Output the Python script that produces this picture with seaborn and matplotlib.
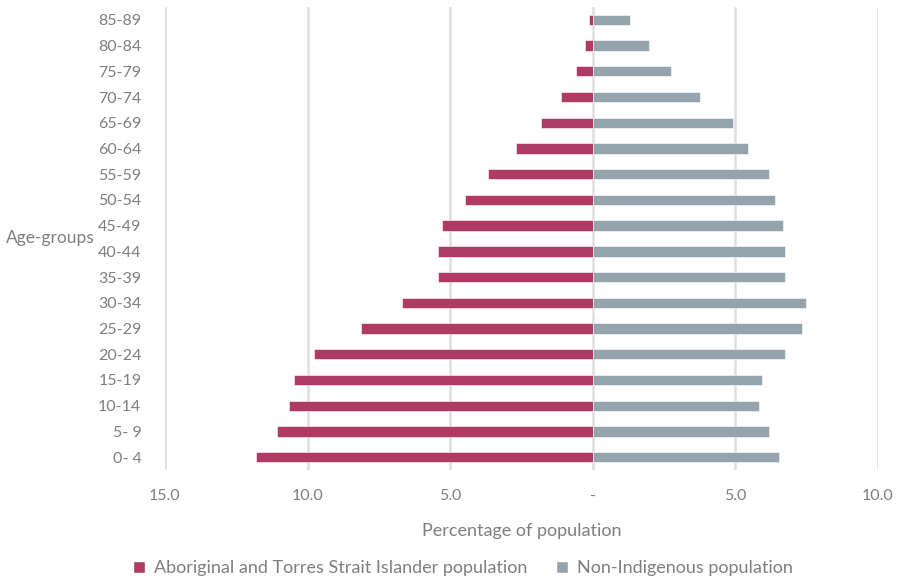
import numpy as np
import pandas as pd
import matplotlib.pyplot as plt
import seaborn as sns
from matplotlib.patches import Patch
from matplotlib.ticker import FuncFormatter

# starosne grupe, od najstarije (gore) do najmladje (dole)
age_groups = ['85-89', '80-84', '75-79', '70-74', '65-69', '60-64', '55-59',
              '50-54', '45-49', '40-44', '35-39', '30-34', '25-29', '20-24',
              '15-19', '10-14', '5- 9', '0- 4']
aboriginal = [0.15, 0.29, 0.58, 1.10, 1.83, 2.71, 3.67, 4.47, 5.28, 5.43,
              5.43, 6.68, 8.14, 9.76, 10.49, 10.64, 11.08, 11.82]
non_indigenous = [1.30, 1.96, 2.75, 3.77, 4.93, 5.44, 6.17, 6.39, 6.68, 6.75,
                  6.75, 7.48, 7.33, 6.75, 5.95, 5.81, 6.17, 6.53]
series_names = ['Aboriginal and Torres Strait Islander population',
                'Non-Indigenous population']
colors = ['#AF3A64', '#95A3AD']
x_ticks = [-15, -10, -5, 0, 5, 10]

df = pd.concat([
    pd.DataFrame({'age': age_groups, 'pct': -np.array(aboriginal), 'pop': series_names[0]}),
    pd.DataFrame({'age': age_groups, 'pct': non_indigenous, 'pop': series_names[1]}),
])

sns.set_style('white')
plt.rcParams['font.family'] = ['Lato', 'DejaVu Sans']
text_color = '#7f7f7f'

fig = plt.figure(figsize=(8.97, 5.83), dpi=100)
ax = fig.add_axes([165 / 897, 1 - 470 / 583, (878 - 165) / 897, (470 - 7) / 583])

sns.barplot(data=df, x='pct', y='age', hue='pop', order=age_groups,
            hue_order=series_names, palette=colors, saturation=1, dodge=False,
            width=0.4, orient='h', ax=ax, legend=False,
            edgecolor='white', linewidth=0.4)

ax.set_xlim(-15, 10)
ax.set_xticks(x_ticks)
ax.xaxis.set_major_formatter(FuncFormatter(lambda v, p: '-' if v == 0 else f'{abs(v):.1f}'))
ax.grid(axis='x', color='#dedede', linewidth=1.8)
ax.set_axisbelow(True)
for s in ax.spines.values():
    s.set_visible(False)
ax.tick_params(axis='both', length=0, labelsize=11.5, colors=text_color)
ax.tick_params(axis='x', pad=14)
ax.tick_params(axis='y', pad=17)

ax.set_xlabel('Percentage of population', fontsize=13, color=text_color, labelpad=14)
ax.set_ylabel('Age-groups', fontsize=12.5, color=text_color, rotation=0,
              ha='right', va='center')
ax.yaxis.set_label_coords(-70 / 713, 0.5)

handles = [Patch(facecolor=c, label=n) for c, n in zip(colors, series_names)]
leg = fig.legend(handles=handles, loc='center', bbox_to_anchor=(463 / 897, 1 - 568 / 583),
                 ncol=2, frameon=False, fontsize=13, handlelength=0.65, handleheight=0.65,
                 handletextpad=0.5, columnspacing=1.6)
for t in leg.get_texts():
    t.set_color(text_color)

fig.savefig('out.png', dpi=100)
plt.close(fig)
